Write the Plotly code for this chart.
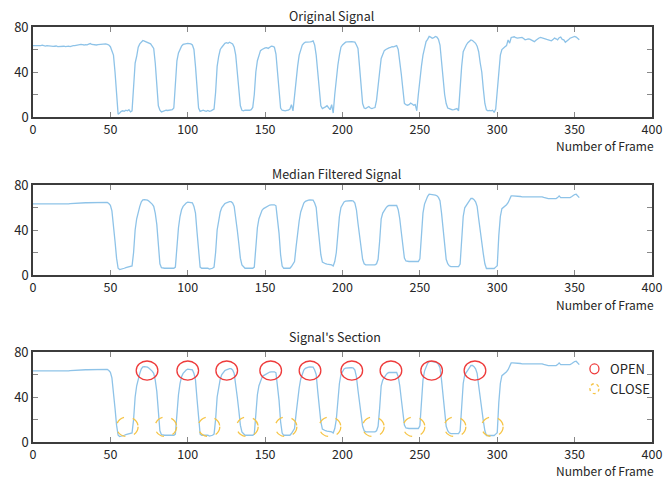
import plotly.graph_objects as go

# ---------------- data ----------------
original = [
    63.5, 63.4, 63.7, 63.6, 63.2, 63.5, 63.8, 63.3, 63.1, 63.4,
    63.2, 62.8, 63.0, 62.7, 62.9, 63.1, 62.6, 62.8, 63.0, 62.7,
    62.9, 62.5, 62.8, 63.0, 62.6, 63.2, 63.5, 63.4, 63.8, 64.2,
    64.0, 64.6, 64.3, 64.0, 64.4, 64.2, 64.8, 65.3, 64.5, 64.2,
    64.4, 64.0, 64.3, 64.5, 64.6, 64.9, 65.1, 65.0, 64.6, 64.0,
    62.5, 59.5, 55.0, 40.0, 20.0, 2.5, 3.5, 5.0, 5.5, 5.0,
    6.0, 5.5, 6.5, 4.5, 5.5, 30.0, 48.0, 54.0, 62.0, 65.0,
    67.0, 68.0, 67.5, 67.0, 66.5, 66.0, 65.0, 63.0, 61.0, 48.0,
    28.0, 10.0, 6.0, 4.5, 5.0, 5.8, 6.0, 5.8, 6.0, 6.3,
    6.5, 8.0, 30.0, 50.0, 57.0, 61.0, 63.0, 64.5, 65.0, 65.5,
    65.5, 65.3, 65.0, 64.0, 60.0, 45.0, 25.0, 8.0, 5.0, 5.5,
    6.0, 5.5, 5.0, 5.8, 5.0, 5.5, 6.5, 7.0, 22.0, 45.0,
    54.0, 60.0, 62.0, 64.0, 65.5, 66.0, 65.5, 66.5, 66.0, 65.0,
    62.0, 55.0, 40.0, 25.0, 10.0, 6.0, 5.5, 6.0, 5.8, 6.2,
    6.0, 6.5, 8.5, 20.0, 40.0, 50.0, 55.0, 59.0, 60.0, 61.0,
    61.5, 61.6, 61.0, 62.0, 63.0, 62.8, 62.0, 56.0, 40.0, 25.0,
    8.0, 6.0, 5.5, 5.5, 5.8, 6.0, 7.0, 11.0, 5.5, 20.0,
    35.0, 45.0, 55.0, 60.0, 64.0, 65.5, 66.5, 66.5, 67.0, 66.8,
    67.0, 67.7, 64.0, 55.0, 40.0, 25.0, 10.0, 7.5, 8.0, 9.0,
    10.0, 8.0, 6.5, 11.0, 3.5, 20.0, 35.0, 46.0, 55.0, 62.0,
    64.0, 65.5, 66.5, 66.8, 67.0, 67.0, 67.0, 66.8, 66.5, 64.0,
    61.0, 45.0, 28.0, 12.0, 8.0, 7.5, 8.5, 9.3, 8.0, 7.5,
    8.0, 8.4, 15.0, 30.0, 40.0, 52.0, 56.5, 59.0, 60.0, 61.0,
    61.5, 61.8, 62.5, 62.3, 63.0, 63.5, 60.0, 50.0, 38.0, 25.0,
    12.0, 11.0, 10.5, 11.0, 12.3, 11.5, 10.5, 11.0, 5.5, 20.0,
    35.0, 45.0, 55.0, 62.0, 67.0, 69.0, 71.6, 71.0, 70.0, 70.5,
    71.6, 71.0, 69.0, 64.0, 50.0, 30.0, 20.0, 12.0, 8.0, 7.5,
    6.5, 6.3, 6.5, 7.0, 7.5, 5.5, 30.0, 45.0, 58.0, 62.0,
    64.0, 66.0, 67.0, 68.5, 68.0, 67.0, 65.5, 63.0, 58.0, 48.0,
    40.0, 25.0, 12.0, 6.3, 5.5, 5.8, 5.5, 6.0, 4.0, 7.0,
    25.0, 45.0, 55.0, 60.0, 61.5, 62.5, 63.5, 68.5, 65.6, 70.7,
    71.0, 71.3, 70.5, 70.1, 70.4, 70.6, 70.7, 69.8, 68.6, 69.0,
    69.5, 69.2, 68.6, 68.0, 67.0, 68.2, 69.4, 70.2, 70.8, 70.5,
    69.8, 69.5, 69.0, 68.6, 68.0, 67.7, 68.8, 70.1, 69.5, 68.6,
    70.5, 71.0, 69.0, 68.6, 66.5, 68.0, 68.6, 70.0, 70.7, 71.2,
    71.6, 71.0, 70.0, 68.6,
]

filtered = [
    63.3, 63.3, 63.3, 63.3, 63.3, 63.3, 63.3, 63.3, 63.3, 63.2,
    63.2, 63.0, 63.0, 63.0, 63.0, 63.0, 62.9, 62.9, 62.9, 62.8,
    62.8, 62.8, 62.8, 63.2, 63.5, 63.6, 63.8, 64.0, 64.2, 64.2,
    64.2, 64.2, 64.2, 64.2, 64.2, 64.2, 64.2, 64.2, 64.2, 64.2,
    64.2, 64.2, 64.3, 64.4, 64.5, 64.8, 64.8, 64.8, 64.5, 63.5,
    62.0, 57.0, 45.0, 30.0, 15.0, 6.0, 4.8, 5.0, 5.5, 6.0,
    6.5, 7.0, 7.5, 7.8, 8.0, 20.0, 40.0, 50.0, 57.0, 61.0,
    65.0, 66.7, 67.0, 67.0, 66.5, 65.5, 64.5, 63.0, 61.0, 55.0,
    45.0, 28.0, 10.0, 6.5, 6.0, 6.0, 6.0, 6.0, 6.0, 6.0,
    6.0, 6.0, 7.0, 25.0, 42.0, 52.0, 58.0, 61.0, 62.7, 64.0,
    64.8, 64.8, 64.8, 64.2, 61.0, 55.0, 38.0, 18.0, 7.0, 6.0,
    6.0, 6.0, 6.0, 6.0, 5.2, 5.5, 6.0, 7.0, 20.0, 40.0,
    50.0, 56.0, 60.0, 62.0, 63.5, 64.2, 65.0, 65.2, 65.2, 64.0,
    61.0, 52.0, 40.0, 28.0, 15.0, 9.0, 7.0, 6.0, 6.0, 6.0,
    6.0, 6.0, 6.0, 7.0, 25.0, 42.0, 50.0, 55.0, 57.5, 59.0,
    60.0, 61.0, 61.8, 62.2, 62.4, 62.4, 62.4, 61.5, 50.0, 37.0,
    18.0, 8.0, 6.0, 6.0, 6.0, 6.0, 6.0, 7.5, 10.0, 12.0,
    25.0, 38.0, 48.0, 56.0, 61.0, 64.0, 65.5, 66.2, 66.5, 66.7,
    66.7, 66.5, 64.0, 60.0, 45.0, 32.0, 18.0, 11.5, 10.5, 10.0,
    9.7, 9.5, 9.2, 9.0, 8.0, 12.0, 20.0, 38.0, 52.0, 60.0,
    63.0, 65.0, 65.7, 66.0, 66.0, 66.0, 66.0, 65.8, 64.0, 58.0,
    46.0, 35.0, 25.0, 14.0, 10.0, 9.0, 9.0, 9.0, 9.0, 9.0,
    9.0, 9.0, 10.0, 14.0, 30.0, 50.0, 55.0, 57.5, 59.5, 61.0,
    61.8, 61.8, 61.8, 61.8, 61.8, 61.8, 58.0, 50.0, 38.0, 25.0,
    15.0, 12.5, 12.0, 12.0, 12.0, 12.0, 12.0, 12.0, 12.0, 12.0,
    14.5, 35.0, 55.0, 63.0, 67.0, 70.0, 71.8, 71.8, 71.5, 71.2,
    71.0, 70.5, 69.0, 66.0, 55.0, 40.0, 25.0, 14.0, 10.0, 8.2,
    7.5, 7.5, 7.5, 7.5, 7.5, 7.5, 9.7, 35.0, 52.0, 59.7,
    62.0, 64.2, 66.0, 68.0, 68.0, 67.0, 65.0, 61.0, 50.0, 38.0,
    28.0, 18.8, 10.0, 5.8, 5.8, 5.8, 5.8, 5.8, 5.8, 7.0,
    8.2, 35.0, 52.0, 59.0, 60.0, 61.0, 62.5, 64.2, 67.0, 70.3,
    70.3, 70.3, 70.3, 70.3, 70.3, 69.8, 69.4, 69.4, 69.4, 69.4,
    69.4, 69.4, 69.4, 69.4, 69.4, 69.4, 69.4, 69.4, 69.7, 69.5,
    69.0, 68.5, 67.9, 67.9, 67.9, 67.9, 67.9, 67.9, 67.9, 68.8,
    70.3, 68.8, 68.8, 68.8, 68.8, 68.8, 68.8, 68.8, 69.5, 70.9,
    71.5, 71.8, 70.5, 68.8,
]

frames = list(range(len(original)))

open_x = [73.7, 100.0, 125.2, 153.6, 179.0, 206.0, 231.3, 257.6, 285.6]
open_y = [63.5, 63.5, 63.5, 63.5, 63.5, 63.5, 63.5, 63.5, 63.5]
close_x = [60.9, 85.8, 113.7, 138.5, 163.5, 191.9, 219.9, 246.2, 272.7, 296.8]
close_y = [13.5, 13.5, 13.5, 13.5, 13.5, 13.5, 13.5, 13.5, 13.5, 13.5]

titles = ["Original Signal", "Median Filtered Signal", "Signal's Section"]
x_label = "Number of Frame"
x_ticks = [0, 50, 100, 150, 200, 250, 300, 350, 400]
y_ticks = [0, 20, 40, 60, 80]
y_ticktext = ["0", "", "40", "", "80"]
legend_labels = ["OPEN", "CLOSE"]

# ---------------- style ----------------
W, H = 671, 478
FONT = "Noto Sans CJK KR, Open Sans, sans-serif"
TXT = "#262626"
LINE = "#8ec3e8"
RED = "#ee3b3b"
YEL = "#f6c445"
AX = "#3c3c3c"

# pixel boxes of the three axes (top, bottom)
boxes = [(27, 117), (185, 275), (352, 442)]
title_pos = [(331, 15.7), (336, 173.3), (335, 336.7)]   # pixel centre
xlabel_y = [145.0, 304.0, 470.0]
L, R = 33, 652

def py(p):
    return 1 - p / H

def px(p):
    return (p - L) / (R - L)

fig = go.Figure()
series = [original, filtered, filtered]
for i, ys in enumerate(series):
    n = "" if i == 0 else str(i + 1)
    fig.add_trace(go.Scatter(x=frames, y=ys, mode="lines",
                             line=dict(color=LINE, width=1.3),
                             xaxis="x" + n, yaxis="y" + n, showlegend=False,
                             hoverinfo="skip"))

layout = dict(width=W, height=H, margin=dict(l=L, r=W - R, t=0, b=0),
              paper_bgcolor="white", plot_bgcolor="white",
              font=dict(family=FONT, size=13, color=TXT), showlegend=False)

annotations = []
for i, (t, b) in enumerate(boxes):
    n = "" if i == 0 else str(i + 1)
    layout["xaxis" + n] = dict(domain=[0, 1], anchor="y" + n, range=[0, 400],
                               tickvals=x_ticks, ticks="inside", ticklen=5,
                               tickcolor="#888", showline=True, linecolor=AX,
                               linewidth=1.6, mirror="ticks", showgrid=False,
                               zeroline=False, automargin=False,
                               tickfont=dict(size=12.5, color=TXT))
    layout["yaxis" + n] = dict(domain=[py(b), py(t)], anchor="x" + n,
                               range=[0, 80], tickvals=y_ticks,
                               ticktext=y_ticktext, ticks="inside", ticklen=5,
                               tickcolor="#888", showline=True, linecolor=AX,
                               linewidth=1.6, mirror="ticks", showgrid=False,
                               zeroline=False, automargin=False,
                               tickfont=dict(size=13, color=TXT))
    tx, ty = title_pos[i]
    annotations.append(dict(text=titles[i], xref="paper", yref="paper",
                            x=px(tx), y=py(ty), xanchor="center",
                            yanchor="middle", showarrow=False,
                            font=dict(size=12.5, color=TXT)))
    annotations.append(dict(text=x_label, xref="paper", yref="paper",
                            x=px(656), y=py(xlabel_y[i]), xanchor="right",
                            yanchor="middle", showarrow=False,
                            font=dict(size=12, color=TXT)))

shapes = []
for cx, cy in zip(open_x, open_y):
    shapes.append(dict(type="circle", xref="x3", yref="y3",
                       x0=cx - 7, x1=cx + 7, y0=cy - 8.5, y1=cy + 8.5,
                       line=dict(color=RED, width=1.3)))
for cx, cy in zip(close_x, close_y):
    shapes.append(dict(type="circle", xref="x3", yref="y3",
                       x0=cx - 7, x1=cx + 7, y0=cy - 8.7, y1=cy + 8.7,
                       line=dict(color=YEL, width=1.3, dash="dash")))

# legend (drawn inside the bottom axes)
leg_items = [(legend_labels[0], RED, "solid", 0.813),
             (legend_labels[1], YEL, "dot", 0.593)]
for label, col, dash, yy in leg_items:
    shapes.append(dict(type="circle", xref="x3 domain", yref="y3 domain",
                       x0=0.907 - 0.0073, x1=0.907 + 0.0073,
                       y0=yy - 0.055, y1=yy + 0.055,
                       line=dict(color=col, width=1.3, dash=dash)))
    annotations.append(dict(text=label, xref="x3 domain", yref="y3 domain",
                            x=0.929, y=yy, xanchor="left", yanchor="middle",
                            showarrow=False, font=dict(size=13, color=TXT)))

layout["annotations"] = annotations
layout["shapes"] = shapes
fig.update_layout(**layout)
fig.write_html("out.html")
